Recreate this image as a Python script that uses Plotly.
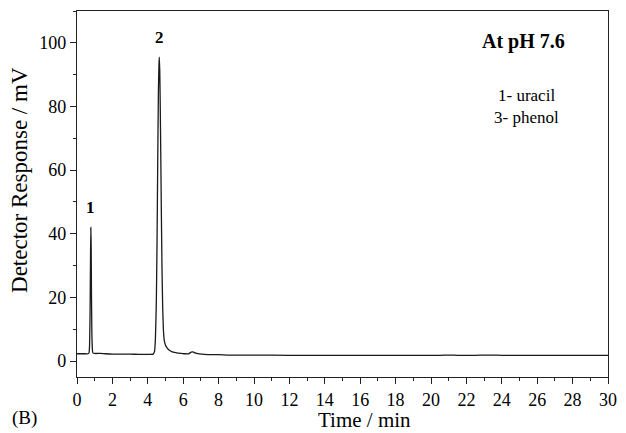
import plotly.graph_objects as go

# Chromatogram at pH 7.6: detector response (mV) versus retention time (min)
time_min = [0.0, 0.3, 0.5, 0.62, 0.68, 0.71, 0.74, 0.76, 0.78, 0.80, 0.82, 0.84, 0.87, 0.90, 1.0,
            1.3, 1.6, 2.0, 2.5, 3.0, 3.5, 4.0, 4.30, 4.38, 4.43, 4.48, 4.52, 4.56, 4.60, 4.63,
            4.65, 4.68, 4.72, 4.76, 4.80, 4.84, 4.88, 4.93, 5.0, 5.1, 5.2, 5.35, 5.5, 5.7,
            5.9, 6.1, 6.3, 6.45, 6.55, 6.7, 6.9, 7.2, 7.6, 8.0, 8.5, 9.0, 10.0, 12.0, 15.0,
            18.0, 20.5, 21.0, 21.5, 22.0, 22.5, 23.0, 23.5, 24.0, 26.0, 28.0, 30.0]
response_mv = [2.3, 2.3, 2.3, 2.3, 2.6, 5.0, 16.0, 30.0, 42.0, 36.0, 20.0, 9.0, 3.5, 2.6, 2.4,
               2.4, 2.3, 2.2, 2.2, 2.2, 2.1, 2.1, 2.2, 3.0, 7.0, 18.0, 36.0, 62.0, 85.0, 93.0,
               95.5, 90.0, 72.0, 50.0, 30.0, 17.0, 10.0, 6.5, 5.0, 4.1, 3.5, 3.0, 2.7, 2.5,
               2.4, 2.3, 2.3, 2.8, 2.9, 2.5, 2.3, 2.1, 2.0, 2.0, 1.9, 1.9, 1.9, 1.8, 1.8,
               1.8, 1.8, 1.9, 1.8, 1.8, 1.8, 1.9, 1.9, 1.8, 1.8, 1.8, 1.8]

# Peak labels placed above the peak apexes
peak_ids = ["1", "2"]
peak_times = [0.78, 4.65]
peak_heights = [42.0, 95.5]

x_ticks = list(range(0, 31, 2))
y_ticks = [0, 20, 40, 60, 80, 100]

serif = "Liberation Serif"

fig = go.Figure()
fig.add_trace(go.Scatter(
    x=time_min, y=response_mv, mode="lines",
    line=dict(color="#1a1a1a", width=1.3, shape="spline", smoothing=0.4),
    showlegend=False, hoverinfo="skip",
))

for pid, pt, ph in zip(peak_ids, peak_times, peak_heights):
    fig.add_annotation(x=pt, y=ph + 2.5, text=f"<b>{pid}</b>", showarrow=False,
                       xanchor="center", yanchor="bottom",
                       font=dict(family=serif, size=17, color="black"))

fig.add_annotation(x=25.2, y=100.3, text="<b>At pH 7.6</b>", showarrow=False,
                   xanchor="center", yanchor="middle",
                   font=dict(family=serif, size=20, color="black"))
fig.add_annotation(x=25.4, y=83.3, text="1- uracil", showarrow=False,
                   xanchor="center", yanchor="middle",
                   font=dict(family=serif, size=17, color="black"))
fig.add_annotation(x=25.4, y=76.5, text="3- phenol", showarrow=False,
                   xanchor="center", yanchor="middle",
                   font=dict(family=serif, size=17, color="black"))

# Axis titles and panel letter
fig.add_annotation(xref="paper", yref="paper", x=(369 - 77) / 540, y=(377 - 420) / 366,
                   text="Time / min", showarrow=False, xanchor="center", yanchor="middle",
                   font=dict(family=serif, size=21, color="black"))
fig.add_annotation(xref="paper", yref="paper", x=(19 - 77) / 540, y=(377 - 180) / 366,
                   text="Detector Response / mV", textangle=-90, showarrow=False,
                   xanchor="center", yanchor="middle",
                   font=dict(family=serif, size=23, color="black"))
fig.add_annotation(xref="paper", yref="paper", x=(24 - 77) / 540, y=(377 - 418) / 366,
                   text="(B)", showarrow=False, xanchor="center", yanchor="middle",
                   font=dict(family=serif, size=19, color="black"))

axis_common = dict(
    showline=True, linecolor="#222", linewidth=1.4, mirror=True,
    showgrid=False, zeroline=False, ticks="outside", ticklen=6, tickwidth=1.2,
    tickcolor="#222", tickfont=dict(family=serif, size=18, color="black"),
)

fig.update_xaxes(range=[0, 30], tickvals=x_ticks,
                 minor=dict(ticks="outside", ticklen=3, tickwidth=1, tickcolor="#222", dtick=1),
                 **axis_common)
fig.update_yaxes(range=[-5, 110], tickvals=y_ticks,
                 minor=dict(ticks="outside", ticklen=3, tickwidth=1, tickcolor="#222", dtick=10, tick0=0),
                 **axis_common)

fig.update_layout(
    width=626, height=433,
    margin=dict(l=77, r=9, t=11, b=56),
    paper_bgcolor="white", plot_bgcolor="white",
    font=dict(family=serif, color="black"),
)

fig.write_html("out.html")
